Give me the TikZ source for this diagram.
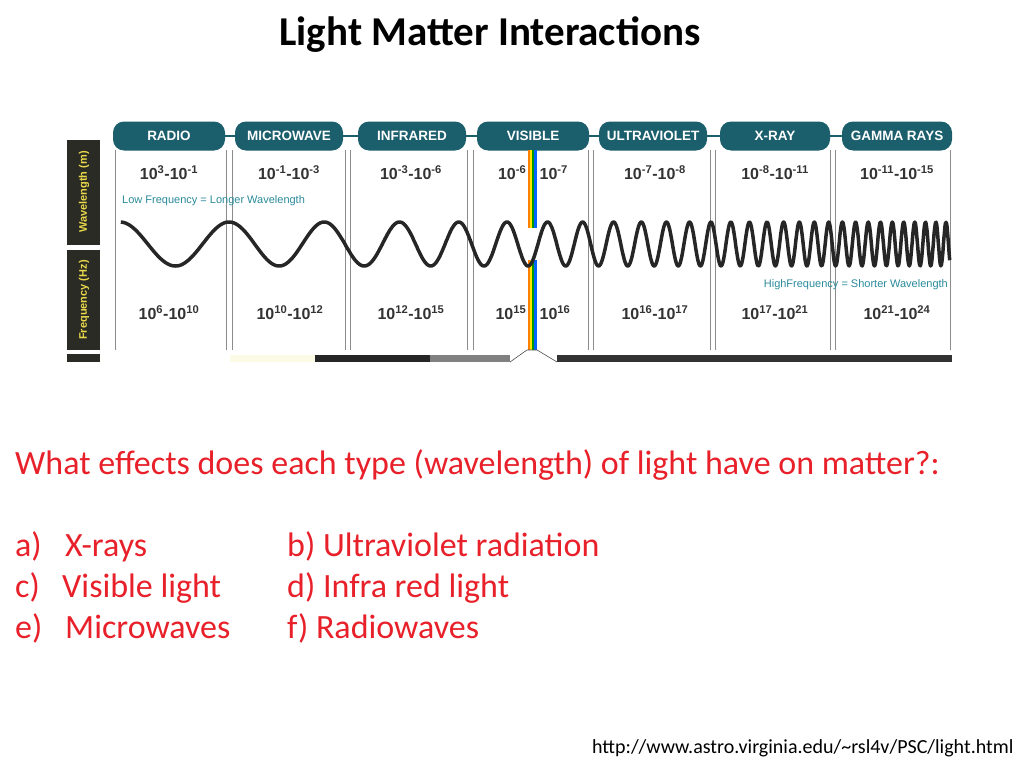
\documentclass[tikz,border=0pt]{standalone}
\usepackage{fontspec}
\setmainfont{Carlito}
\newfontfamily\arialf{Liberation Sans}
\definecolor{teal1}{HTML}{1B5E6C}
\definecolor{redt}{HTML}{E8202A}
\definecolor{side}{HTML}{2B2B26}
\definecolor{ylw}{HTML}{E8D84A}
\definecolor{lbl}{HTML}{2A8A9A}
\newcommand{\sx}[1]{\textsuperscript{#1}}
\begin{document}
\begin{tikzpicture}[x=1pt,y=-1pt,
  pill/.style={fill=teal1,rounded corners=11pt,minimum height=29pt,text=white,font=\arialf\bfseries\fontsize{13.5}{14}\selectfont,inner sep=0pt},
  num/.style={font=\arialf\bfseries\fontsize{16}{17}\selectfont,text=black!80},
  sep/.style={draw=black!45,line width=0.8pt},
  sidelbl/.style={rotate=90,text=ylw,font=\arialf\bfseries\fontsize{11}{12}\selectfont},
  red/.style={text=redt,anchor=base west,font=\fontsize{34}{38}\selectfont,inner sep=0pt}]
\useasboundingbox (0,0) rectangle (1024,768);
\node[font=\bfseries\fontsize{41}{44}\selectfont] (title) at (490,35) {Light Matter Interactions};
% sidebar
\fill[side] (67,140) rectangle (100,245);
\fill[side] (67,250) rectangle (100,350);
\fill[side] (67,354) rectangle (100,362);
\node[sidelbl] (wl) at (84,192) {Wavelength (m)};
\node[sidelbl] (fq) at (84,300) {Frequency (Hz)};
% bottom bar
\fill[black!15!yellow!10!white] (230,355) rectangle (315,362);
\fill[black!85] (315,355) rectangle (430,362);
\fill[black!50] (430,355) rectangle (510,362);
\fill[black!80] (557,355) rectangle (952,362);
% separators
\foreach \x in {115,226,232,345,350,467,473,588,593,710,715,830,835,950}
  \draw[sep] (\x,150) -- (\x,350);
% connector line
\draw[teal1,line width=2pt] (113,136) -- (950,136);
% pills
\node[pill,minimum width=112pt] (radio) at (169,136) {RADIO};
\node[pill,minimum width=108pt] (micro) at (289,136) {MICROWAVE};
\node[pill,minimum width=108pt] (ir) at (412,136) {INFRARED};
\node[pill,minimum width=112pt] (vis) at (533,136) {VISIBLE};
\node[pill,minimum width=108pt] (uv) at (653,136) {ULTRAVIOLET};
\node[pill,minimum width=110pt] (xr) at (775,136) {X-RAY};
\node[pill,minimum width=110pt] (gr) at (897,136) {GAMMA RAYS};
% spectrum strip
\foreach \ya/\yb in {150/228,260/350}{
  \fill[orange] (528,\ya) rectangle (530,\yb);
  \fill[yellow!90!orange] (530,\ya) rectangle (532,\yb);
  \fill[green!60!black] (532,\ya) rectangle (534,\yb);
  \fill[blue!60!cyan] (534,\ya) rectangle (537,\yb);}
% wave
\draw[black!85,line width=3.5pt,line join=round] plot[domain=0.001:1,samples=1200,smooth]
  ({120+830*\x},{244-22*cos(2689.2*\x+7900*pow(\x,3.5))});
% numbers
\node[num] (w1) at (169,173) {10\sx{3}-10\sx{-1}};
\node[num] (w2) at (289,173) {10\sx{-1}-10\sx{-3}};
\node[num] (w3) at (411,173) {10\sx{-3}-10\sx{-6}};
\node[num] (w4) at (533,173) {10\sx{-6}\ \ \ 10\sx{-7}};
\node[num] (w5) at (655,173) {10\sx{-7}-10\sx{-8}};
\node[num] (w6) at (775,173) {10\sx{-8}-10\sx{-11}};
\node[num] (w7) at (897,173) {10\sx{-11}-10\sx{-15}};
\node[num] (f1) at (169,313) {10\sx{6}-10\sx{10}};
\node[num] (f2) at (290,313) {10\sx{10}-10\sx{12}};
\node[num] (f3) at (411,313) {10\sx{12}-10\sx{15}};
\node[num] (f4) at (533,313) {10\sx{15}\ \ \ 10\sx{16}};
\node[num] (f5) at (655,313) {10\sx{16}-10\sx{17}};
\node[num] (f6) at (775,313) {10\sx{17}-10\sx{21}};
\node[num] (f7) at (897,313) {10\sx{21}-10\sx{24}};
\node[text=lbl,font=\arialf\fontsize{11}{12}\selectfont,anchor=west,inner sep=0pt] (lowf) at (122,201) {Low Frequency = Longer Wavelength};
\node[text=lbl,font=\arialf\fontsize{11}{12}\selectfont,anchor=east,inner sep=0pt] (highf) at (948,285) {HighFrequency = Shorter Wavelength};
% trapezoid
\coordinate (tl) at (527,350); \coordinate (tr) at (537,350);
\coordinate (bl) at (510,362); \coordinate (br) at (557,362);
\draw[black!70,line width=0.6pt] (tl) -- (bl) (tr) -- (br) (tl) -- (tr);
% question text
\node[red] (q) at (15,474) {What effects does each type (wavelength) of light have on matter?:};
\node[red] (a) at (15,556) {a)};
\node[red] (a2) at (65,556) {X-rays};
\node[red] (b) at (287,556) {b) Ultraviolet radiation};
\node[red] (c) at (15,597) {c)};
\node[red] (c2) at (62,597) {Visible light};
\node[red] (d) at (287,597) {d) Infra red light};
\node[red] (e) at (15,638) {e)};
\node[red] (e2) at (65,638) {Microwaves};
\node[red] (f) at (287,638) {f) Radiowaves};
\node[font=\fontsize{20}{22}\selectfont,anchor=east] (url) at (1017,748) {http://www.astro.virginia.edu/\textasciitilde rsl4v/PSC/light.html};
\end{tikzpicture}
\end{document}
